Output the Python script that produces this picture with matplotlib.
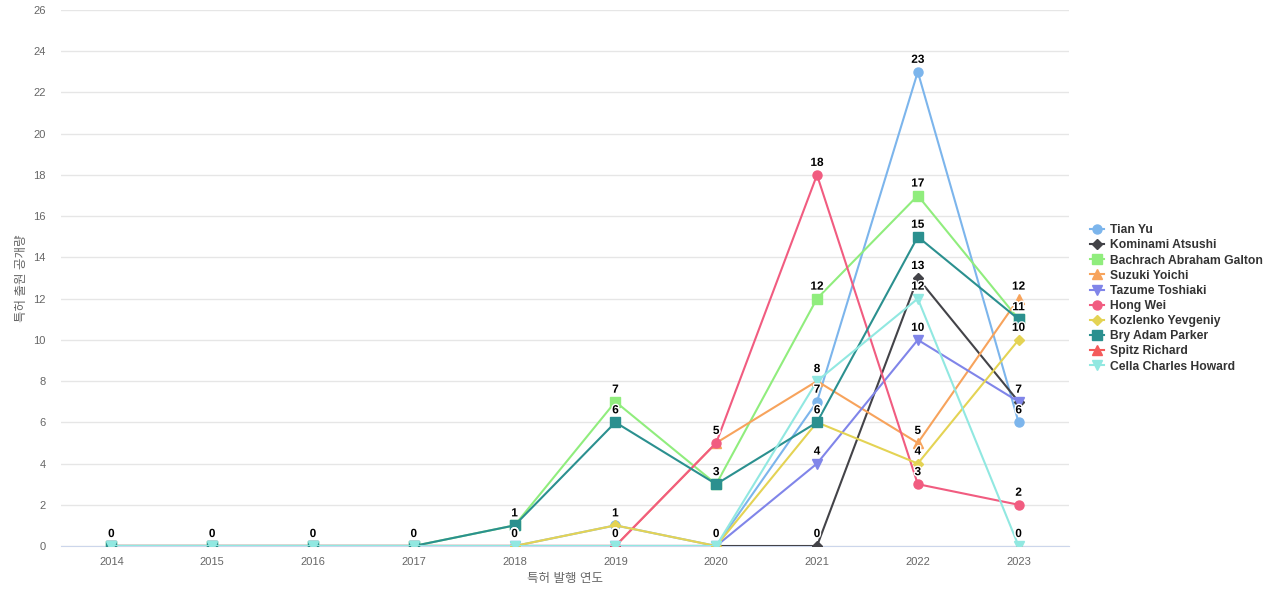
import matplotlib
matplotlib.use("Agg")
from matplotlib import pyplot as plt
import matplotlib.patheffects as pe

plt.rcParams['font.family'] = ['Liberation Sans', 'Noto Sans CJK KR', 'DejaVu Sans']

nan = float('nan')

# données
years = ['2014', '2015', '2016', '2017', '2018', '2019', '2020', '2021', '2022', '2023']
names = ['Tian Yu', 'Kominami Atsushi', 'Bachrach Abraham Galton', 'Suzuki Yoichi',
         'Tazume Toshiaki', 'Hong Wei', 'Kozlenko Yevgeniy', 'Bry Adam Parker',
         'Spitz Richard', 'Cella Charles Howard']
tian_yu = [0, 0, 0, 0, 0, 1, 0, 7, 23, 6]
kominami = [0, 0, 0, 0, 0, 0, 0, 0, 13, 7]
bachrach = [0, 0, 0, 0, 1, 7, 3, 12, 17, 11]
suzuki = [0, 0, 0, 0, 0, 0, 5, 8, 5, 12]
tazume = [0, 0, 0, 0, 0, 0, 0, 4, 10, 7]
hong_wei = [0, 0, 0, 0, 0, 0, 5, 18, 3, 2]
kozlenko = [0, 0, 0, 0, 0, 1, 0, 6, 4, 10]
bry = [0, 0, 0, 0, 1, 6, 3, 6, 15, 11]
spitz = [0, 0, 0, 0, 0, 0, 0, nan, nan, 0]
cella = [0, 0, 0, 0, 0, 0, 0, 8, 12, 0]
series = [tian_yu, kominami, bachrach, suzuki, tazume, hong_wei, kozlenko, bry, spitz, cella]

colors = ['#7cb5ec', '#434348', '#90ed7d', '#f7a35c', '#8085e9',
          '#f15c80', '#e4d354', '#2b908f', '#f45b5b', '#91e8e1']
markers = ['o', 'D', 's', '^', 'v', 'o', 'D', 's', '^', 'v']
msizes = [6.5, 5, 6.5, 6.5, 6.5, 6.5, 5, 6.5, 6.5, 6.5]

fig = plt.figure(figsize=(12.8, 6), dpi=100)
ax = fig.add_axes([61 / 1280, 54 / 600, 1008 / 1280, 536 / 600])

x = list(range(len(years)))
for vals, name, c, m, ms in zip(series, names, colors, markers, msizes):
    ax.plot(x, vals, color=c, lw=1.5, marker=m, markersize=ms, label=name, zorder=3)

# étiquettes des points
for vals in series:
    for xi, v in zip(x, vals):
        if v != v:
            continue
        ax.annotate(str(v), (xi, v), xytext=(0, 6), textcoords='offset pixels',
                    ha='center', va='bottom', fontsize=8.5, fontweight='bold', color='black',
                    path_effects=[pe.withStroke(linewidth=2, foreground='white')], zorder=5)

ax.set_xlim(-0.5, len(years) - 0.5)
ax.set_ylim(0, 26)
ax.set_yticks(range(0, 27, 2))
ax.set_xticks(x)
ax.set_xticklabels(years)
ax.grid(axis='y', color='#e6e6e6', lw=1)
ax.set_axisbelow(True)
for s in ['top', 'right', 'left']:
    ax.spines[s].set_visible(False)
ax.spines['bottom'].set_color('#ccd6eb')
ax.tick_params(axis='both', length=0, labelsize=8, labelcolor='#666666')
ax.tick_params(axis='x', pad=8)
ax.tick_params(axis='y', pad=11)

ax.set_xlabel('특허 발행 연도', fontsize=9, color='#666666', labelpad=4)
ax.set_ylabel('특허 출원 공개량', fontsize=9, color='#666666', labelpad=4)

leg = ax.legend(loc='center left', bbox_to_anchor=(1.01, 0.462),
                frameon=False, fontsize=8.7, handlelength=1.2, labelspacing=0.26,
                handletextpad=0.45)
for t in leg.get_texts():
    t.set_fontweight('bold')
    t.set_color('#333333')

fig.savefig('out.png', dpi=100)
